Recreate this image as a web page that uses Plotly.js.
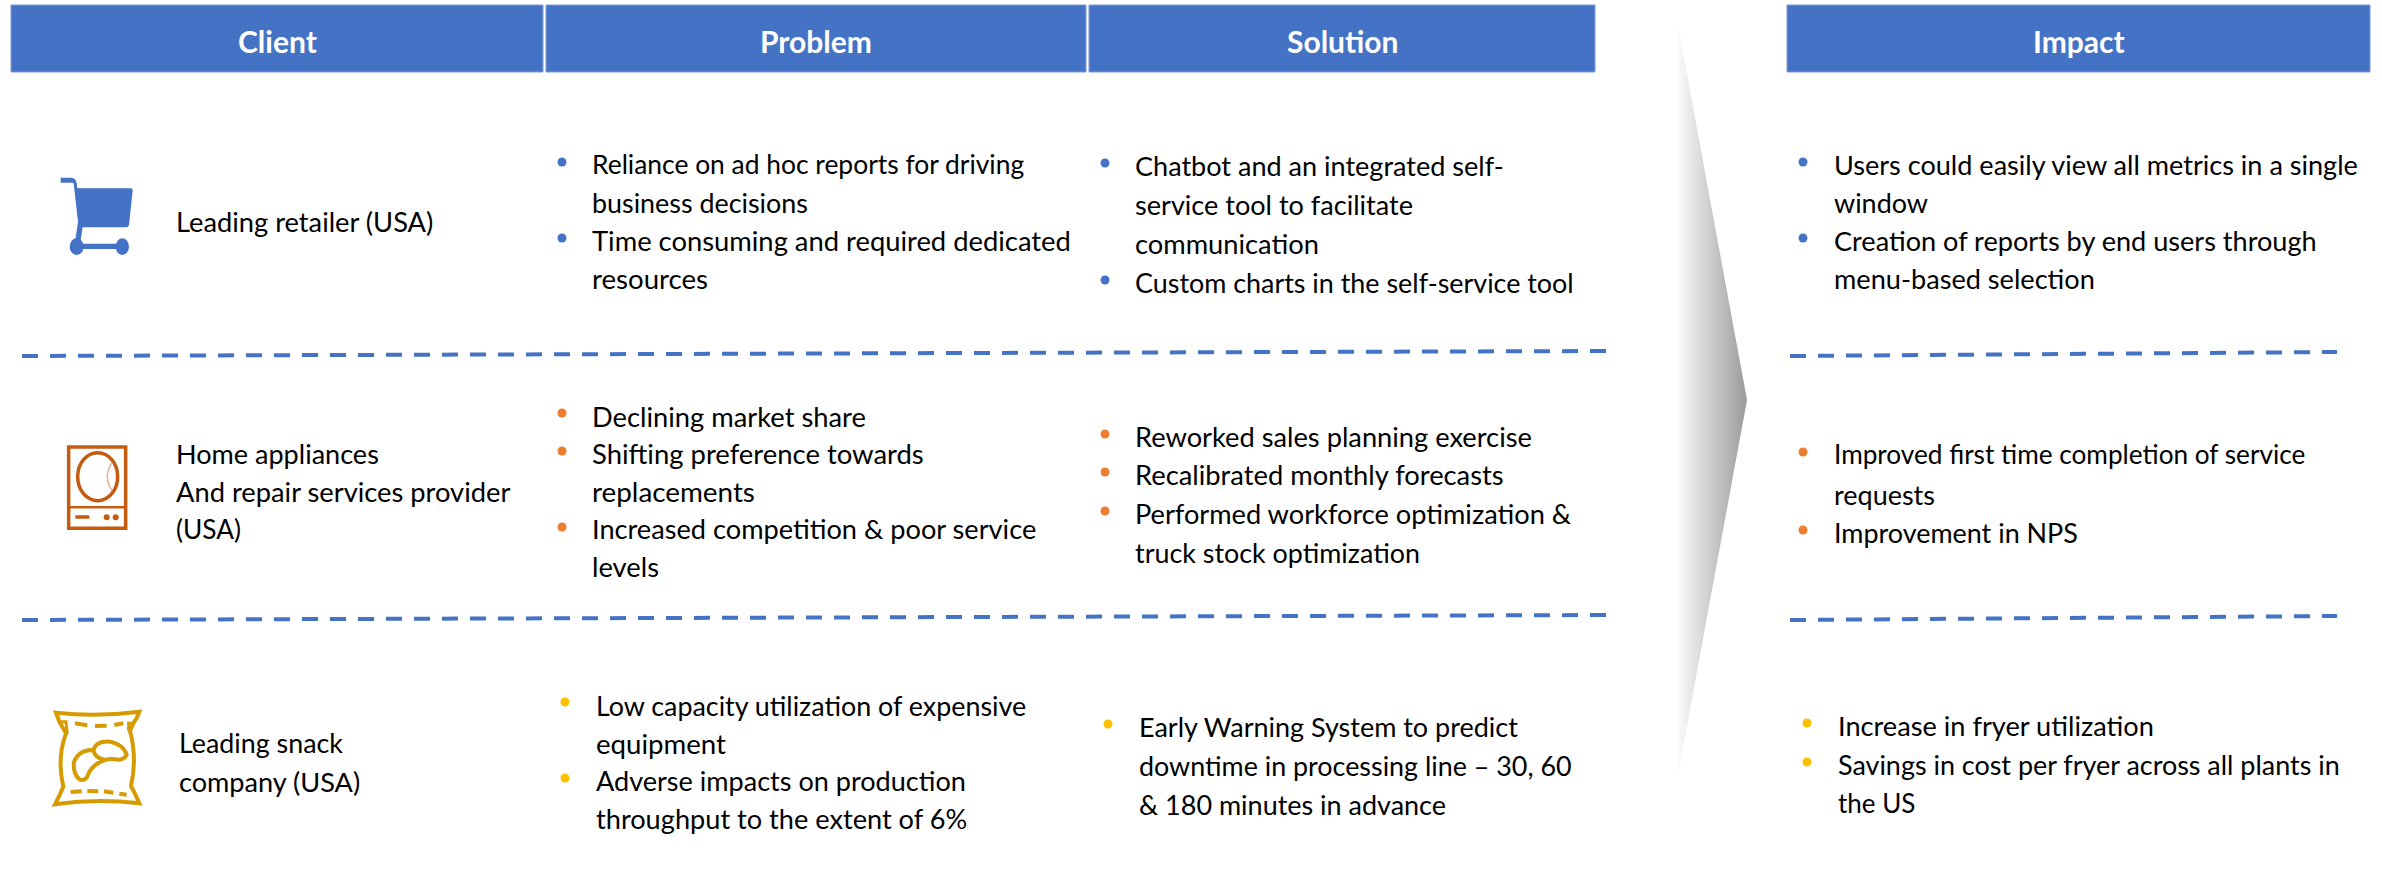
<!DOCTYPE html>
<html><head><meta charset="utf-8">
<script src="https://cdn.plot.ly/plotly-3.0.1.min.js"></script>
<style>html,body{margin:0;padding:0;background:#fff}#c{width:2382px;height:884px}</style>
</head><body><div id="c"></div>
<script>
// ---- content ----
const headers = ["Client","Problem","Solution","Impact"];
const clientRow1 = ["Leading retailer (USA)"];
const clientRow2 = ["Home appliances","And repair services provider","(USA)"];
const clientRow3 = ["Leading snack","company (USA)"];
const problemRow1 = ["Reliance on ad hoc reports for driving","business decisions","Time consuming and required dedicated","resources"];
const problemRow2 = ["Declining market share","Shifting preference towards","replacements","Increased competition & poor service","levels"];
const problemRow3 = ["Low capacity utilization of expensive","equipment","Adverse impacts on production","throughput to the extent of 6%"];
const solutionRow1 = ["Chatbot and an integrated self-","service tool to facilitate","communication","Custom charts in the self-service tool"];
const solutionRow2 = ["Reworked sales planning exercise","Recalibrated monthly forecasts","Performed workforce optimization &","truck stock optimization"];
const solutionRow3 = ["Early Warning System to predict","downtime in processing line – 30, 60","& 180 minutes in advance"];
const impactRow1 = ["Users could easily view all metrics in a single","window","Creation of reports by end users through","menu-based selection"];
const impactRow2 = ["Improved first time completion of service","requests","Improvement in NPS"];
const impactRow3 = ["Increase in fryer utilization","Savings in cost per fryer across all plants in","the US"];

// ---- layout of the slide (pixels on a 2382x884 canvas) ----
const BLUE="#4472C4", ORANGE="#ED7D31", GOLD="#FFC000";
const FONT="Lato, 'Open Sans', sans-serif", BODY=27, HEAD=30;
// w = measured width of each line in the reference, used to pick a per-line font size
const blocks = [
 {t:clientRow1,x:175.5,y:[223],w:[258]},
 {t:clientRow2,x:175.5,y:[455,493,531],w:[203,335,65]},
 {t:clientRow3,x:178.5,y:[745,783],w:[164,182]},
 {t:problemRow1,x:592,y:[166,204,242,280],w:[433,216,479,116],bx:562,by:[162,238],c:BLUE},
 {t:problemRow2,x:592,y:[418,455,493,530,568],w:[274,332,163,445,67],bx:562,by:[413,451,527],c:ORANGE},
 {t:problemRow3,x:596,y:[707,745,782,820],w:[432,130,370,372],bx:565,by:[702,778],c:GOLD},
 {t:solutionRow1,x:1135,y:[167,206,245,284],w:[369,278,184,439],bx:1105,by:[163,280],c:BLUE},
 {t:solutionRow2,x:1135,y:[438,476.5,515,554],w:[397,369.5,437,285],bx:1105,by:[434,472,511],c:ORANGE},
 {t:solutionRow3,x:1139,y:[728,767,806],w:[380,433,307],bx:1108,by:[724],c:GOLD},
 {t:impactRow1,x:1834,y:[166,204,242,280],w:[526,94,484,261],bx:1803,by:[162,238],c:BLUE},
 {t:impactRow2,x:1834,y:[456,496,534],w:[472,101,244],bx:1803,by:[452,530],c:ORANGE},
 {t:impactRow3,x:1837.5,y:[727,766.5,805],w:[316.5,503,77.5],bx:1807,by:[723,762],c:GOLD}
];
const headerBoxes=[[11,543],[546,1086],[1089,1595],[1787,2370]];
const dashLines=[[22,356,1607,351],[22,620,1607,615],[1790,356,2337,352],[1790,620,2337,616]];

const ctx=document.createElement("canvas").getContext("2d");
function fit(text,w){ctx.font="100px Lato";const s=w/ctx.measureText(text).width*100;return Math.min(BODY*1.06,Math.max(BODY*0.94,s));}

const annotations=[], shapes=[], traces=[];

// gradient chevron
traces.push({type:"scatter",mode:"lines",x:[1677,1747,1677,1677],y:[20,400,780,20],fill:"toself",
  line:{width:0,color:"rgba(0,0,0,0)"},
  fillgradient:{type:"horizontal",colorscale:[[0,"#ffffff"],[0.05,"#f6f6f5"],[1,"#9a9a9a"]]},
  hoverinfo:"skip",showlegend:false});

// header bars
headers.forEach((h,i)=>{
  const [a,b]=headerBoxes[i];
  shapes.push({type:"rect",xref:"x",yref:"y",x0:a,x1:b,y0:5,y1:72,fillcolor:BLUE,line:{color:"#7f9bd3",width:1}});
  annotations.push({x:(a+b)/2,y:41,xref:"x",yref:"y",text:"<b>"+h+"</b>",showarrow:false,xanchor:"center",yanchor:"middle",
    font:{family:FONT,size:HEAD,color:"#ffffff"}});
});

// dashed separators
dashLines.forEach(d=>shapes.push({type:"line",xref:"x",yref:"y",x0:d[0],y0:d[1],x1:d[2],y1:d[3],
  line:{color:BLUE,width:4,dash:"16px,12px"}}));

// text + bullets
blocks.forEach(b=>{
  b.t.forEach((line,i)=>annotations.push({x:b.x,y:b.y[i],xref:"x",yref:"y",text:line,showarrow:false,
    xanchor:"left",yanchor:"middle",xshift:-2,yshift:2,font:{family:FONT,size:fit(line,b.w[i]),color:"#000000"}}));
  if(b.bx) traces.push({type:"scatter",mode:"markers",x:b.by.map(()=>b.bx),y:b.by,
    marker:{size:9,color:b.c,line:{width:0}},hoverinfo:"skip",showlegend:false});
});

// icons: authored in 3x local coordinates, mapped to the canvas
function tf(p,ox,oy){return p.replace(/(-?[\d.]+)[ ,](-?[\d.]+)/g,(m,a,b)=>(ox+a/3).toFixed(2)+" "+(oy+b/3).toFixed(2));}
function path(p,ox,oy,o){shapes.push(Object.assign({type:"path",xref:"x",yref:"y",path:tf(p,ox,oy)},o));}
function ell(cx,cy,rx,ry,ox,oy,o){shapes.push(Object.assign({type:"circle",xref:"x",yref:"y",
  x0:ox+(cx-rx)/3,x1:ox+(cx+rx)/3,y0:oy+(cy-ry)/3,y1:oy+(cy+ry)/3},o));}

// cart
const cf={fillcolor:BLUE,line:{width:0}};
path("M92 83 L125 83 Q137 84 140 100 L142 115 L303 115 Q309 116 308 122 L297 225 Q296 232 289 232 L158 232 L152 270 L136 270 L144 215 L131 100 L128 98 L92 98 Z",30,150,cf);
path("M150 281 L265 281 L265 297 L150 297 Z",30,150,cf);
ell(140,290,21,25,30,150,cf); ell(277,290,20,25,30,150,cf);

// appliance
const AP="#C55A11", as={fillcolor:"rgba(0,0,0,0)",line:{color:AP,width:3.5}};
path("M116 81 L287 81 L287 325 L116 325 Z",30,420,{fillcolor:"rgba(0,0,0,0)",line:{color:AP,width:3.5}});
path("M113 262 L290 262",30,420,{line:{color:AP,width:2.5}});
ell(203,170,60,72,30,420,as);
path("M246 128 Q218 170 246 212",30,420,{fillcolor:"rgba(0,0,0,0)",line:{color:"#E3B494",width:1.5}});
path("M136 291 L178 291",30,420,{line:{color:AP,width:3.5}});
const ad={fillcolor:AP,line:{width:0}};
ell(230,292,9,9,30,420,ad); ell(257,292,9,9,30,420,ad);

// snack bag
const BG="#D69B00", bs={fillcolor:"rgba(0,0,0,0)",line:{color:BG,width:4}};
path("M78 68 Q200 82 328 65 Q322 85 310 100 L300 122 Q322 205 303 288 Q318 315 328 340 Q200 325 75 343 Q88 318 100 290 Q80 205 108 130 L88 95 Z",30,690,bs);
path("M88 95 L108 95 L112 132",30,690,{fillcolor:"rgba(0,0,0,0)",line:{color:BG,width:3}});
path("M310 100 L296 100 L296 124",30,690,{fillcolor:"rgba(0,0,0,0)",line:{color:BG,width:3}});
[["M135 100 L172 106"],["M195 108 L230 107"],["M253 105 L280 100"],["M122 306 L155 304"],["M172 303 L205 304"],["M222 304 L250 308"],["M268 311 L290 314"]]
  .forEach(a=>path(a[0],30,690,{line:{color:BG,width:4}}));
path("M190 180 Q148 178 132 215 Q128 250 148 268 Q168 276 175 252 Q188 222 225 210 Q195 205 190 180 Z",30,690,bs);
path("M190 180 Q198 152 240 155 Q282 165 290 195 Q280 213 255 208 Q240 205 225 210",30,690,bs);

const layout={width:2382,height:884,margin:{l:0,r:0,t:0,b:0},paper_bgcolor:"#fff",plot_bgcolor:"#fff",
  xaxis:{range:[0,2382],visible:false,fixedrange:true},
  yaxis:{range:[884,0],visible:false,fixedrange:true},
  showlegend:false,hovermode:false,shapes,annotations};
Plotly.newPlot("c",traces,layout,{displayModeBar:false,staticPlot:true});
</script></body></html>
